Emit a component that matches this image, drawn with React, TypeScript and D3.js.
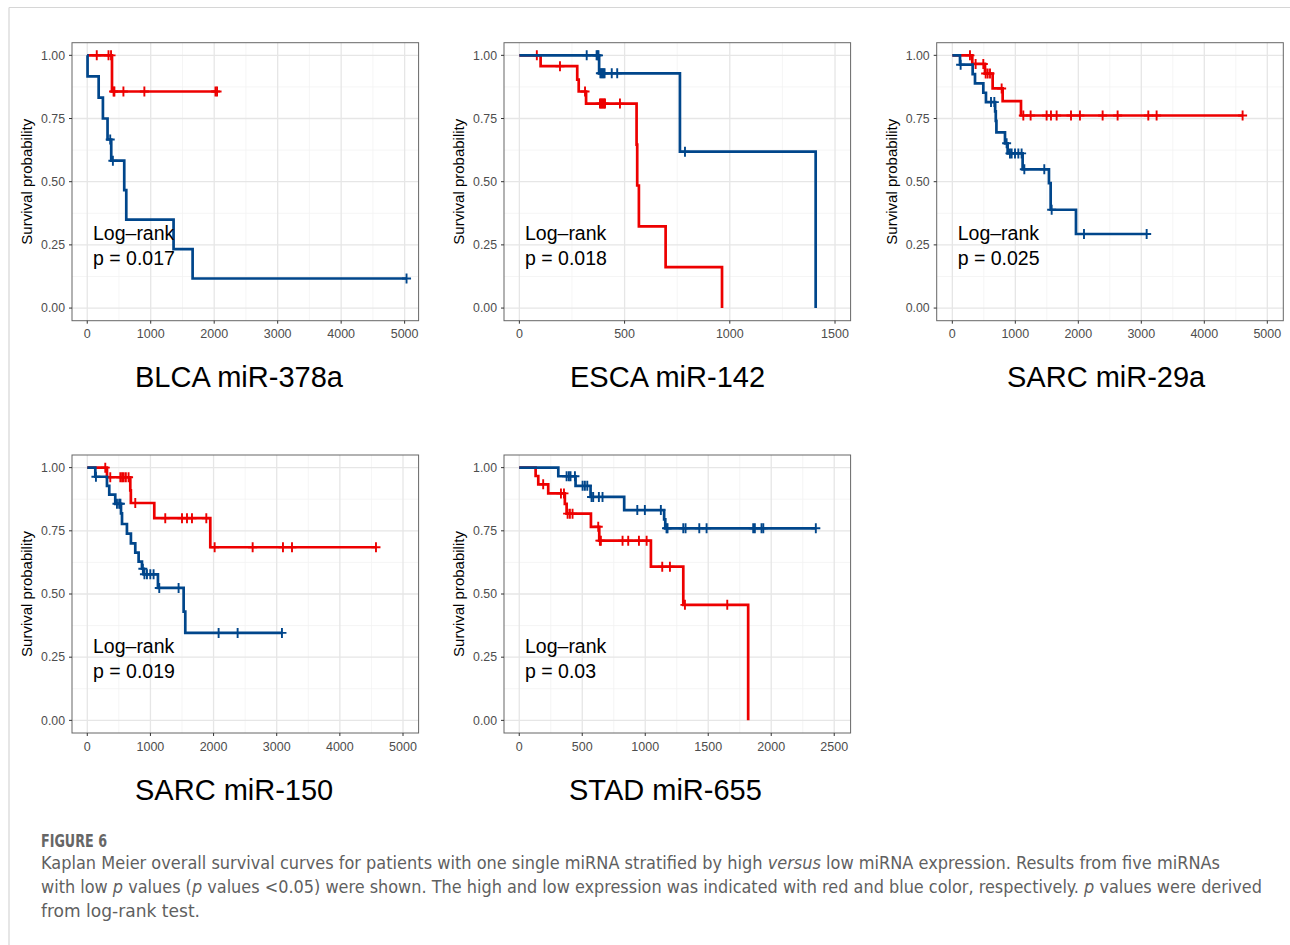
import React from "react";
import * as d3 from "d3";

// ---- data (time in days, survival probability) ----
// red = high expression, blue = low expression

// BLCA miR-378a
const blcaHighT = [0, 390];
const blcaHighS = [1, 0.857];
const blcaHighC = [150, 335, 375, 415, 428, 570, 900, 2020, 2045];
const blcaLowT = [0, 5, 180, 247, 320, 378, 583, 615, 1360, 1660];
const blcaLowS = [1, 0.917, 0.833, 0.75, 0.667, 0.583, 0.467, 0.35, 0.233, 0.117];
const blcaLowC = [362, 404, 5030];

// ESCA miR-142
const escaHighT = [0, 101, 275, 282, 317, 557, 560, 568, 695, 963];
const escaHighS = [1, 0.957, 0.904, 0.857, 0.809, 0.647, 0.485, 0.323, 0.162, 0];
const escaHighC = [83, 193, 312, 383, 388, 393, 398, 403, 407, 478];
const escaLowT = [0, 379, 763, 1408];
const escaLowS = [1, 0.929, 0.619, 0];
const escaLowC = [320, 367, 372, 376, 385, 390, 395, 400, 405, 439, 465, 787];

// SARC miR-29a
const sarc29HighT = [0, 317, 519, 640, 799, 1090];
const sarc29HighS = [1, 0.966, 0.928, 0.869, 0.819, 0.762];
const sarc29HighC = [280, 370, 492, 529, 561, 598, 783, 1127, 1243, 1497, 1566, 1656, 1884, 2026, 2386, 2624, 3111, 3243, 4608];
const sarc29LowT = [0, 122, 323, 360, 492, 534, 680, 690, 700, 836, 878, 1116, 1534, 1561, 1963];
const sarc29LowS = [1, 0.963, 0.926, 0.889, 0.852, 0.815, 0.778, 0.741, 0.695, 0.652, 0.612, 0.549, 0.494, 0.389, 0.293];
const sarc29LowC = [132, 614, 667, 862, 915, 942, 995, 1048, 1100, 1143, 1460, 1577, 2090, 3085];

// SARC miR-150
const sarc150HighT = [0, 312, 681, 690, 1061, 1948];
const sarc150HighS = [1, 0.962, 0.91, 0.86, 0.8, 0.685];
const sarc150HighC = [285, 364, 523, 551, 577, 611, 654, 760, 1235, 1500, 1579, 1658, 1885, 2017, 2619, 3099, 3242, 4572];
const sarc150LowT = [0, 127, 312, 348, 443, 534, 550, 628, 691, 760, 813, 866, 895, 1119, 1526, 1552];
const sarc150LowS = [1, 0.964, 0.928, 0.893, 0.857, 0.819, 0.777, 0.739, 0.7, 0.664, 0.628, 0.6, 0.578, 0.524, 0.43, 0.346];
const sarc150LowC = [137, 470, 505, 525, 880, 905, 945, 998, 1050, 1140, 1446, 2080, 2381, 3083];

// STAD miR-655
const stadHighT = [0, 130, 151, 230, 362, 376, 569, 635, 1045, 1302, 1817];
const stadHighS = [1, 0.967, 0.934, 0.898, 0.857, 0.818, 0.766, 0.711, 0.608, 0.457, 0];
const stadHighC = [190, 331, 355, 384, 402, 423, 627, 640, 648, 820, 865, 950, 1011, 1135, 1196, 1315, 1651];
const stadLowT = [0, 310, 447, 566, 833, 1150, 1159];
const stadLowS = [1, 0.966, 0.928, 0.884, 0.832, 0.795, 0.76];
const stadLowC = [376, 394, 407, 442, 503, 521, 540, 574, 587, 632, 661, 937, 997, 1124, 1169, 1177, 1302, 1320, 1429, 1487, 1857, 1870, 1923, 1937, 2354];

const titles = ["BLCA miR-378a", "ESCA miR-142", "SARC miR-29a", "SARC miR-150", "STAD miR-655"];
const pValues = ["0.017", "0.018", "0.025", "0.019", "0.03"];
const xTicks5000 = [0, 1000, 2000, 3000, 4000, 5000];
const xTicks1500 = [0, 500, 1000, 1500];
const xTicks2500 = [0, 500, 1000, 1500, 2000, 2500];
const yTicks = [0, 0.25, 0.5, 0.75, 1];

const RED = "#ED0000";
const BLUE = "#00468B";
const AXIS_FONT = "'Liberation Sans', Arial, Helvetica, sans-serif";

const panels = [
  { title: titles[0], p: pValues[0], high: [blcaHighT, blcaHighS, blcaHighC], low: [blcaLowT, blcaLowS, blcaLowC], xDomain: [-240, 5220], ticks: xTicks5000, left: 72, top: 42.7, titleX: 135 },
  { title: titles[1], p: pValues[1], high: [escaHighT, escaHighS, escaHighC], low: [escaLowT, escaLowS, escaLowC], xDomain: [-73, 1574], ticks: xTicks1500, left: 504, top: 42.7, titleX: 570 },
  { title: titles[2], p: pValues[2], high: [sarc29HighT, sarc29HighS, sarc29HighC], low: [sarc29LowT, sarc29LowS, sarc29LowC], xDomain: [-248, 5254], ticks: xTicks5000, left: 936.7, top: 42.7, titleX: 1007 },
  { title: titles[3], p: pValues[3], high: [sarc150HighT, sarc150HighS, sarc150HighC], low: [sarc150LowT, sarc150LowS, sarc150LowC], xDomain: [-242, 5247], ticks: xTicks5000, left: 72, top: 455, titleX: 135 },
  { title: titles[4], p: pValues[4], high: [stadHighT, stadHighS, stadHighC], low: [stadLowT, stadLowS, stadLowC], xDomain: [-121, 2630], ticks: xTicks2500, left: 504, top: 455, titleX: 569 },
];

const PW = 346.6;
const PH = 278;

function Curve({ data, color, x, y }: any) {
  const [t, s, c] = data;
  const end = Math.max(t[t.length - 1], d3.max(c) as number);
  const pts: [number, number][] = t.map((d: number, i: number) => [d, s[i]]);
  if (end > t[t.length - 1]) pts.push([end, s[s.length - 1]]);
  const line = d3
    .line<[number, number]>()
    .x((d) => x(d[0]))
    .y((d) => y(d[1]))
    .curve(d3.curveStepAfter);
  const survAt = (tt: number) => s[d3.bisectRight(t, tt) - 1];
  return (
    <g>
      <path d={line(pts) as string} fill="none" stroke={color} strokeWidth={2.7} />
      {c.map((ct: number, i: number) => {
        const cx = x(ct);
        const cy = y(survAt(ct));
        return (
          <path
            key={i}
            d={`M${cx - 4.5},${cy}h9M${cx},${cy - 5}v10`}
            stroke={color}
            strokeWidth={1.9}
            fill="none"
          />
        );
      })}
    </g>
  );
}

function Panel({ p }: any) {
  const x = d3.scaleLinear().domain(p.xDomain).range([p.left, p.left + PW]);
  const y = d3.scaleLinear().domain([-0.05, 1.05]).range([p.top + PH, p.top]);
  const step = p.ticks[1] - p.ticks[0];
  const minorX = p.ticks.slice(0, -1).map((d: number) => d + step / 2);
  if (p.ticks[p.ticks.length - 1] + step / 2 < p.xDomain[1]) minorX.push(p.ticks[p.ticks.length - 1] + step / 2);
  const minorY = [0.125, 0.375, 0.625, 0.875];
  const bottom = p.top + PH;
  return (
    <g>
      <rect x={p.left} y={p.top} width={PW} height={PH} fill="#fff" />
      {minorX.map((d: number) => (
        <line key={"mx" + d} x1={x(d)} x2={x(d)} y1={p.top} y2={bottom} stroke="#f2f2f2" strokeWidth={0.8} />
      ))}
      {minorY.map((d) => (
        <line key={"my" + d} x1={p.left} x2={p.left + PW} y1={y(d)} y2={y(d)} stroke="#f2f2f2" strokeWidth={0.8} />
      ))}
      {p.ticks.map((d: number) => (
        <line key={"gx" + d} x1={x(d)} x2={x(d)} y1={p.top} y2={bottom} stroke="#e6e6e6" strokeWidth={1.3} />
      ))}
      {yTicks.map((d) => (
        <line key={"gy" + d} x1={p.left} x2={p.left + PW} y1={y(d)} y2={y(d)} stroke="#e6e6e6" strokeWidth={1.3} />
      ))}
      <Curve data={p.high} color={RED} x={x} y={y} />
      <Curve data={p.low} color={BLUE} x={x} y={y} />
      <rect x={p.left} y={p.top} width={PW} height={PH} fill="none" stroke="#666" strokeWidth={1} />
      {/* axes */}
      {yTicks.map((d) => (
        <g key={"yt" + d}>
          <line x1={p.left - 3} x2={p.left} y1={y(d)} y2={y(d)} stroke="#333" strokeWidth={1} />
          <text x={p.left - 7} y={y(d)} dy="0.35em" textAnchor="end" fontSize={12.3} fill="#4d4d4d" fontFamily={AXIS_FONT}>
            {d.toFixed(2)}
          </text>
        </g>
      ))}
      {p.ticks.map((d: number) => (
        <g key={"xt" + d}>
          <line x1={x(d)} x2={x(d)} y1={bottom} y2={bottom + 3} stroke="#333" strokeWidth={1} />
          <text x={x(d)} y={bottom + 17.5} textAnchor="middle" fontSize={12.5} fill="#4d4d4d" fontFamily={AXIS_FONT}>
            {d}
          </text>
        </g>
      ))}
      <text
        transform={`translate(${p.left - 40},${p.top + PH / 2}) rotate(-90)`}
        textAnchor="middle"
        fontSize={15}
        fill="#000"
        fontFamily={AXIS_FONT}
      >
        Survival probability
      </text>
      <text x={p.left + 21} y={p.top + 197.5} fontSize={19.5} fill="#000" fontFamily={AXIS_FONT}>
        Log–rank
      </text>
      <text x={p.left + 21} y={p.top + 222.5} fontSize={19.5} fill="#000" fontFamily={AXIS_FONT}>
        p = {p.p}
      </text>
      <text x={p.titleX} y={p.top + 344.5} fontSize={29} fill="#000" fontFamily={AXIS_FONT}>
        {p.title}
      </text>
    </g>
  );
}

export default function App() {
  const capFont = "'Liberation Sans Narrow', 'DejaVu Sans Condensed', 'Liberation Sans', sans-serif";
  return (
    <svg
      width={1290}
      height={945}
      style={{ position: "absolute", left: 0, top: 0, background: "#fff" }}
    >
      <rect x={0} y={0} width={1290} height={945} fill="#fff" />
      <line x1={9} x2={1290} y1={7.5} y2={7.5} stroke="#d6d6d6" strokeWidth={1.2} />
      <line x1={9} x2={9} y1={7.5} y2={945} stroke="#d6d6d6" strokeWidth={1.2} />
      {panels.map((p, i) => (
        <Panel key={i} p={p} />
      ))}
      <text x={41} y={846.5} fontSize={17} fontWeight="bold" fill="#666" fontFamily={capFont} textLength={66} lengthAdjust="spacingAndGlyphs">
        FIGURE 6
      </text>
      <g fontSize={17} fill="#5f5f5f" fontFamily={capFont}>
        <text x={41} y={869} textLength={1179} lengthAdjust="spacingAndGlyphs">
          Kaplan Meier overall survival curves for patients with one single miRNA stratified by high{" "}
          <tspan fontStyle="italic">versus</tspan> low miRNA expression. Results from five miRNAs
        </text>
        <text x={41} y={893} textLength={1221} lengthAdjust="spacingAndGlyphs">
          with low <tspan fontStyle="italic">p</tspan> values (<tspan fontStyle="italic">p</tspan> values &lt;0.05) were
          shown. The high and low expression was indicated with red and blue color, respectively.{" "}
          <tspan fontStyle="italic">p</tspan> values were derived
        </text>
        <text x={41} y={917} textLength={159} lengthAdjust="spacingAndGlyphs">
          from log-rank test.
        </text>
      </g>
    </svg>
  );
}
